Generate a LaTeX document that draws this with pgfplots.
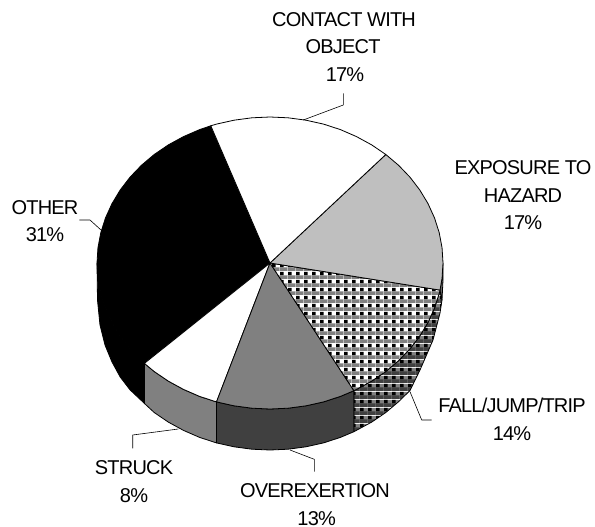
\documentclass[border=0pt]{standalone}
\usepackage{pgfplots}
\pgfplotsset{compat=1.18}
\usepackage{fontspec}
\setmainfont{Liberation Sans}[LetterSpace=-4]
\usetikzlibrary{patterns}
\tikzset{lab/.style={anchor=base, inner sep=0pt, font=\fontsize{20bp}{24bp}\selectfont}}
\pgfdeclarepatterninherentlycolored{fallpat}{\pgfpointorigin}{\pgfpoint{8bp}{8bp}}{\pgfpoint{8bp}{8bp}}{
 \pgfsetfillcolor{white}\pgfpathrectangle{\pgfpoint{0bp}{0bp}}{\pgfpoint{8bp}{8bp}}\pgfusepath{fill}
 \pgfsetfillcolor{black}\pgfpathrectangle{\pgfpoint{0bp}{4bp}}{\pgfpoint{4bp}{4bp}}\pgfusepath{fill}
 \pgfsetfillcolor{black!50}\pgfpathrectangle{\pgfpoint{0bp}{0bp}}{\pgfpoint{8bp}{4bp}}\pgfusepath{fill}
}
\pgfdeclarepatterninherentlycolored{falldark}{\pgfpointorigin}{\pgfpoint{8bp}{8bp}}{\pgfpoint{8bp}{8bp}}{
 \pgfsetfillcolor{black!50}\pgfpathrectangle{\pgfpoint{0bp}{0bp}}{\pgfpoint{8bp}{8bp}}\pgfusepath{fill}
 \pgfsetfillcolor{black}\pgfpathrectangle{\pgfpoint{0bp}{4bp}}{\pgfpoint{4bp}{4bp}}\pgfusepath{fill}
 \pgfsetfillcolor{black!75}\pgfpathrectangle{\pgfpoint{0bp}{0bp}}{\pgfpoint{8bp}{4bp}}\pgfusepath{fill}
}
\begin{document}
\begin{tikzpicture}
\begin{axis}[
  scale only axis, width=595bp, height=527bp,
  xmin=0, xmax=595, ymin=0, ymax=527, y dir=reverse,
  hide axis, clip=false,
  every axis plot/.append style={line width=0.8bp, line join=round},
]
\path (axis cs:0,0) rectangle (axis cs:595,527);
% side: other
\addplot[draw=black, fill=black] coordinates {
(97,263)(97.95,278.26)(100.8,293.36)(105.5,308.1)(112,322.4)(120.2,336)(130,348.8)(141.4,360.7)(144.4,363.4)
(144.4,403.4)(130,389.8)(120.2,377)(112,362)(105,345)(100,325)(97.5,300)(97,263)} -- cycle;
% side: struck
\addplot[draw=black, fill=black!50] coordinates {
(144.4,363.4)(154.2,371.5)(168.3,381.1)(183.5,389.4)(199.6,396.4)(216.5,401.9)
(216.5,442.9)(199.6,437.4)(183.5,430.4)(168.3,422.1)(154.2,412.5)(144.4,403.4)} -- cycle;
% side: overexertion
\addplot[draw=black, fill=black!75] coordinates {
(216.5,401.9)(234,405.8)(251.9,408.2)(270,409)(288.1,408.2)(306,405.8)(323.5,401.9)(340.4,396.4)(353.9,390.7)
(353.9,431.7)(340.4,437.4)(323.5,442.9)(306,446.8)(288.1,449.2)(270,450)(251.9,449.2)(234,446.8)(216.5,442.9)} -- cycle;
% side: fall
\addplot[draw=black, pattern=falldark] coordinates {
(353.9,390.7)(356.5,389.4)(371.7,381.1)(385.8,371.5)(398.6,360.7)(410,348.8)(419.8,336)(428,322.4)(434.5,308.1)(439.2,293.36)(440,290.1)
(442,300)(440,313)(433,340)(420,370)(410,390.5)(398.6,401.7)(385.8,412.5)(371.7,422.1)(353.9,431.7)} -- cycle;
% side: exposure
\addplot[draw=black, fill=black!60] coordinates {
(440,290.1)(442.05,278.26)(443,263)(443,280)(442,300)} -- cycle;
% top: other
\addplot[draw=black, fill=black] coordinates {
(270,263)(210.8,125.8)(199.6,129.6)(183.5,136.6)(168.3,144.9)(154.2,154.5)(141.4,165.3)(130,177.2)(120.2,190)(112,203.6)(105.5,217.9)(100.8,232.64)(97.95,247.74)(97,263)(97.95,278.26)(100.8,293.36)(105.5,308.1)(112,322.4)(120.2,336)(130,348.8)(141.4,360.7)(144.4,363.4)} -- cycle;
% top: struck
\addplot[draw=black, fill=white] coordinates {
(270,263)(144.4,363.4)(154.2,371.5)(168.3,381.1)(183.5,389.4)(199.6,396.4)(216.5,401.9)} -- cycle;
% top: overexertion
\addplot[draw=black, fill=black!50] coordinates {
(270,263)(216.5,401.9)(234,405.8)(251.9,408.2)(270,409)(288.1,408.2)(306,405.8)(323.5,401.9)(340.4,396.4)(353.9,390.7)} -- cycle;
% top: fall
\addplot[draw=black, pattern=fallpat] coordinates {
(270,263)(353.9,390.7)(356.5,389.4)(371.7,381.1)(385.8,371.5)(398.6,360.7)(410,348.8)(419.8,336)(428,322.4)(434.5,308.1)(439.2,293.36)(440,290.1)} -- cycle;
% top: exposure
\addplot[draw=black, fill=black!25] coordinates {
(270,263)(440,290.1)(442.05,278.26)(443,263)(442.05,247.74)(439.2,232.64)(434.5,217.9)(428,203.6)(419.8,190)(410,177.2)(398.6,165.3)(385.8,154.5)} -- cycle;
% top: contact
\addplot[draw=black, fill=white] coordinates {
(270,263)(385.8,154.5)(371.7,144.9)(356.5,136.6)(340.4,129.6)(323.5,124.1)(306,120.2)(288.1,117.8)(270,117)(251.9,117.8)(234,120.2)(216.5,124.1)(210.8,125.8)} -- cycle;
% leaders
\addplot[black, line width=0.6bp] coordinates {(343.3,93.3)(343.3,105)(303.3,120)};
\addplot[black, line width=0.6bp] coordinates {(79.3,220)(90,220)(101,230)};
\addplot[black, line width=0.6bp] coordinates {(410,391.7)(421.7,420)(431.7,420)};
\addplot[black, line width=0.6bp] coordinates {(178.3,429)(132.7,435)(132.7,448.3)};
\addplot[black, line width=0.6bp] coordinates {(290,450)(314.3,459.3)(314.3,471.7)};
% labels
\node[lab] at (axis cs:344,27) {CONTACT WITH};
\node[lab] at (axis cs:343,54) {OBJECT};
\node[lab] at (axis cs:345,82) {17\%};
\node[lab] at (axis cs:523,174) {EXPOSURE TO};
\node[lab] at (axis cs:523,202) {HAZARD};
\node[lab] at (axis cs:523,229) {17\%};
\node[lab] at (axis cs:45,214) {OTHER};
\node[lab] at (axis cs:45,241) {31\%};
\node[lab] at (axis cs:512,412) {FALL/JUMP/TRIP};
\node[lab] at (axis cs:512,440) {14\%};
\node[lab] at (axis cs:134,474) {STRUCK};
\node[lab] at (axis cs:134,502) {8\%};
\node[lab] at (axis cs:315,497) {OVEREXERTION};
\node[lab] at (axis cs:316.7,525) {13\%};
\end{axis}
\end{tikzpicture}
\end{document}
